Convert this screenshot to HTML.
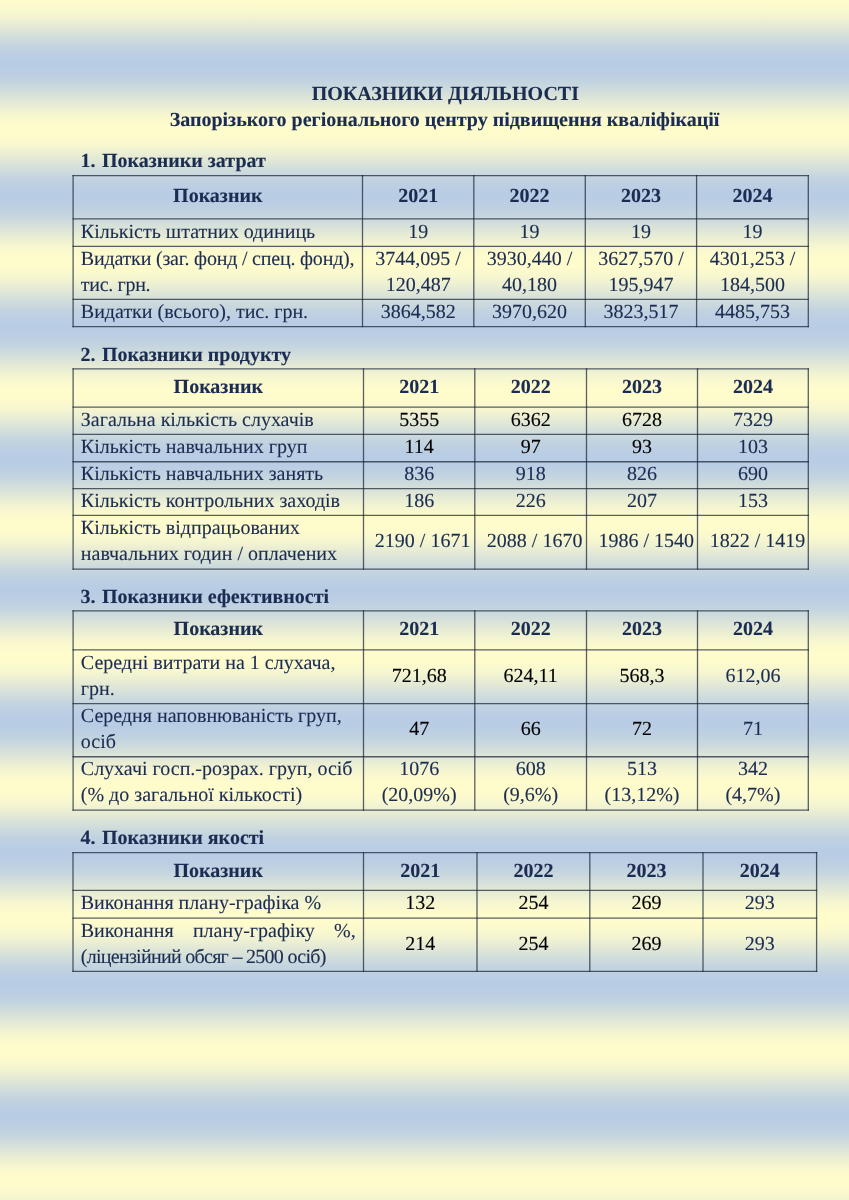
<!DOCTYPE html>
<html lang="uk"><head><meta charset="utf-8"><title>Показники діяльності</title>
<style>
html,body{margin:0;padding:0}
body{width:849px;height:1200px;overflow:hidden;position:relative;background:repeating-linear-gradient(to bottom,rgb(255,252,204) -1.20px,rgb(254,251,204) 4.28px,rgb(250,249,206) 9.75px,rgb(245,245,208) 15.23px,rgb(237,240,210) 20.71px,rgb(229,234,213) 26.19px,rgb(220,228,216) 31.66px,rgb(210,222,219) 37.14px,rgb(202,216,222) 42.62px,rgb(194,211,224) 48.09px,rgb(189,207,226) 53.57px,rgb(185,205,228) 59.05px,rgb(184,204,228) 64.52px,rgb(185,205,228) 70.00px,rgb(189,207,226) 75.48px,rgb(194,211,224) 80.96px,rgb(202,216,222) 86.43px,rgb(210,222,219) 91.91px,rgb(220,228,216) 97.39px,rgb(229,234,213) 102.86px,rgb(237,240,210) 108.34px,rgb(245,245,208) 113.82px,rgb(250,249,206) 119.30px,rgb(254,251,204) 124.77px,rgb(255,252,204) 130.25px);font-family:"Liberation Serif","Times New Roman",serif;font-size:20px;line-height:26px;color:#1B2C52}
.t{position:absolute;white-space:nowrap;height:26px;-webkit-text-stroke:0.12px currentColor}
.b{font-weight:bold}
.c{text-align:center}
.j{text-align:justify;text-align-last:justify}
svg{position:absolute;left:0;top:0}
#w{position:absolute;left:0;top:0;width:849px;height:1200px;will-change:transform;text-rendering:geometricPrecision}
</style></head><body>

<div id="w">
<div class="t b c" style="left:0.80px;top:80.70px;width:889.00px;">ПОКАЗНИКИ ДІЯЛЬНОСТІ</div>
<div class="t b c" style="left:0.00px;top:107.00px;width:889.00px;">Запорізького регіонального центру підвищення кваліфікації</div>
<div class="t b" style="left:80.60px;top:148.20px;">1.<span style="margin-left:1.3px"> </span>Показники затрат</div>
<div class="t b" style="left:80.60px;top:341.70px;">2.<span style="margin-left:1.3px"> </span>Показники продукту</div>
<div class="t b" style="left:80.60px;top:583.70px;">3.<span style="margin-left:1.3px"> </span>Показники ефективності</div>
<div class="t b" style="left:80.60px;top:825.20px;">4.<span style="margin-left:1.3px"> </span>Показники якості</div>
<div class="t b c" style="left:80.80px;top:183.22px;width:274.00px;">Показник</div>
<div class="t b c" style="left:370.20px;top:183.22px;width:95.90px;">2021</div>
<div class="t b c" style="left:481.50px;top:183.22px;width:96.10px;">2022</div>
<div class="t b c" style="left:593.00px;top:183.22px;width:95.90px;">2023</div>
<div class="t b c" style="left:704.30px;top:183.22px;width:96.30px;">2024</div>
<div class="t " style="left:80.80px;top:218.62px;">Кількість штатних одиниць</div>
<div class="t  c" style="left:370.20px;top:218.62px;width:95.90px;">19</div>
<div class="t  c" style="left:481.50px;top:218.62px;width:96.10px;">19</div>
<div class="t  c" style="left:593.00px;top:218.62px;width:95.90px;">19</div>
<div class="t  c" style="left:704.30px;top:218.62px;width:96.30px;">19</div>
<div class="t " style="left:80.80px;top:245.85px;letter-spacing:-0.2px;">Видатки (заг. фонд / спец. фонд),</div>
<div class="t " style="left:80.80px;top:271.85px;letter-spacing:-0.3px;">тис. грн.</div>
<div class="t  c" style="left:370.20px;top:245.85px;width:95.90px;">3744,095 /</div>
<div class="t  c" style="left:370.20px;top:271.85px;width:95.90px;">120,487</div>
<div class="t  c" style="left:481.50px;top:245.85px;width:96.10px;">3930,440 /</div>
<div class="t  c" style="left:481.50px;top:271.85px;width:96.10px;">40,180</div>
<div class="t  c" style="left:593.00px;top:245.85px;width:95.90px;">3627,570 /</div>
<div class="t  c" style="left:593.00px;top:271.85px;width:95.90px;">195,947</div>
<div class="t  c" style="left:704.30px;top:245.85px;width:96.30px;">4301,253 /</div>
<div class="t  c" style="left:704.30px;top:271.85px;width:96.30px;">184,500</div>
<div class="t " style="left:80.80px;top:298.95px;">Видатки (всього), тис. грн.</div>
<div class="t  c" style="left:370.20px;top:298.95px;width:95.90px;">3864,582</div>
<div class="t  c" style="left:481.50px;top:298.95px;width:96.10px;">3970,620</div>
<div class="t  c" style="left:593.00px;top:298.95px;width:95.90px;">3823,517</div>
<div class="t  c" style="left:704.30px;top:298.95px;width:96.30px;">4485,753</div>
<div class="t b c" style="left:80.80px;top:373.98px;width:275.00px;">Показник</div>
<div class="t b c" style="left:371.20px;top:373.98px;width:95.90px;">2021</div>
<div class="t b c" style="left:482.50px;top:373.98px;width:96.30px;">2022</div>
<div class="t b c" style="left:594.20px;top:373.98px;width:95.60px;">2023</div>
<div class="t b c" style="left:705.20px;top:373.98px;width:95.40px;">2024</div>
<div class="t " style="left:80.80px;top:406.75px;">Загальна кількість слухачів</div>
<div class="t  c" style="left:371.20px;top:406.75px;width:95.90px;color:#000;">5355</div>
<div class="t  c" style="left:482.50px;top:406.75px;width:96.30px;color:#000;">6362</div>
<div class="t  c" style="left:594.20px;top:406.75px;width:95.60px;color:#000;">6728</div>
<div class="t  c" style="left:705.20px;top:406.75px;width:95.40px;">7329</div>
<div class="t " style="left:80.80px;top:434.10px;">Кількість навчальних груп</div>
<div class="t  c" style="left:371.20px;top:434.10px;width:95.90px;color:#000;">114</div>
<div class="t  c" style="left:482.50px;top:434.10px;width:96.30px;color:#000;">97</div>
<div class="t  c" style="left:594.20px;top:434.10px;width:95.60px;color:#000;">93</div>
<div class="t  c" style="left:705.20px;top:434.10px;width:95.40px;">103</div>
<div class="t " style="left:80.80px;top:461.15px;">Кількість навчальних занять</div>
<div class="t  c" style="left:371.20px;top:461.15px;width:95.90px;">836</div>
<div class="t  c" style="left:482.50px;top:461.15px;width:96.30px;">918</div>
<div class="t  c" style="left:594.20px;top:461.15px;width:95.60px;">826</div>
<div class="t  c" style="left:705.20px;top:461.15px;width:95.40px;">690</div>
<div class="t " style="left:80.80px;top:488.00px;">Кількість контрольних заходів</div>
<div class="t  c" style="left:371.20px;top:488.00px;width:95.90px;">186</div>
<div class="t  c" style="left:482.50px;top:488.00px;width:96.30px;">226</div>
<div class="t  c" style="left:594.20px;top:488.00px;width:95.60px;">207</div>
<div class="t  c" style="left:705.20px;top:488.00px;width:95.40px;">153</div>
<div class="t " style="left:80.80px;top:515.30px;">Кількість відпрацьованих</div>
<div class="t " style="left:80.80px;top:541.30px;">навчальних годин / оплачених</div>
<div class="t  c" style="left:374.70px;top:528.30px;width:95.90px;">2190 / 1671</div>
<div class="t  c" style="left:486.50px;top:528.30px;width:96.30px;">2088 / 1670</div>
<div class="t  c" style="left:598.50px;top:528.30px;width:95.60px;">1986 / 1540</div>
<div class="t  c" style="left:709.80px;top:528.30px;width:95.40px;">1822 / 1419</div>
<div class="t b c" style="left:80.80px;top:616.43px;width:275.00px;">Показник</div>
<div class="t b c" style="left:371.20px;top:616.43px;width:95.90px;">2021</div>
<div class="t b c" style="left:482.50px;top:616.43px;width:96.30px;">2022</div>
<div class="t b c" style="left:594.20px;top:616.43px;width:95.60px;">2023</div>
<div class="t b c" style="left:705.20px;top:616.43px;width:95.40px;">2024</div>
<div class="t " style="left:80.80px;top:649.73px;">Середні витрати на 1 слухача,</div>
<div class="t " style="left:80.80px;top:675.73px;">грн.</div>
<div class="t  c" style="left:371.20px;top:662.73px;width:95.90px;color:#000;">721,68</div>
<div class="t  c" style="left:482.50px;top:662.73px;width:96.30px;color:#000;">624,11</div>
<div class="t  c" style="left:594.20px;top:662.73px;width:95.60px;color:#000;">568,3</div>
<div class="t  c" style="left:705.20px;top:662.73px;width:95.40px;">612,06</div>
<div class="t " style="left:80.80px;top:703.15px;">Середня наповнюваність груп,</div>
<div class="t " style="left:80.80px;top:729.15px;">осіб</div>
<div class="t  c" style="left:371.20px;top:716.15px;width:95.90px;color:#000;">47</div>
<div class="t  c" style="left:482.50px;top:716.15px;width:96.30px;color:#000;">66</div>
<div class="t  c" style="left:594.20px;top:716.15px;width:95.60px;color:#000;">72</div>
<div class="t  c" style="left:705.20px;top:716.15px;width:95.40px;">71</div>
<div class="t " style="left:80.80px;top:756.45px;">Слухачі госп.-розрах. груп, осіб</div>
<div class="t " style="left:80.80px;top:782.45px;">(% до загальної кількості)</div>
<div class="t  c" style="left:371.20px;top:756.45px;width:95.90px;">1076</div>
<div class="t  c" style="left:371.20px;top:782.45px;width:95.90px;">(20,09%)</div>
<div class="t  c" style="left:482.50px;top:756.45px;width:96.30px;">608</div>
<div class="t  c" style="left:482.50px;top:782.45px;width:96.30px;">(9,6%)</div>
<div class="t  c" style="left:594.20px;top:756.45px;width:95.60px;">513</div>
<div class="t  c" style="left:594.20px;top:782.45px;width:95.60px;">(13,12%)</div>
<div class="t  c" style="left:705.20px;top:756.45px;width:95.40px;">342</div>
<div class="t  c" style="left:705.20px;top:782.45px;width:95.40px;">(4,7%)</div>
<div class="t b c" style="left:80.70px;top:857.50px;width:275.10px;">Показник</div>
<div class="t b c" style="left:371.20px;top:857.50px;width:98.10px;">2021</div>
<div class="t b c" style="left:484.70px;top:857.50px;width:97.40px;">2022</div>
<div class="t b c" style="left:597.50px;top:857.50px;width:97.80px;">2023</div>
<div class="t b c" style="left:710.70px;top:857.50px;width:98.20px;">2024</div>
<div class="t " style="left:80.70px;top:890.30px;">Виконання плану-графіка %</div>
<div class="t  c" style="left:371.20px;top:890.30px;width:98.10px;color:#000;">132</div>
<div class="t  c" style="left:484.70px;top:890.30px;width:97.40px;color:#000;">254</div>
<div class="t  c" style="left:597.50px;top:890.30px;width:97.80px;color:#000;">269</div>
<div class="t  c" style="left:710.70px;top:890.30px;width:98.20px;">293</div>
<div class="t  j" style="left:80.70px;top:917.80px;width:275.10px;">Виконання плану-графіку %,</div>
<div class="t " style="left:80.70px;top:943.80px;letter-spacing:-0.71px;">(ліцензійний обсяг – 2500 осіб)</div>
<div class="t  c" style="left:371.20px;top:930.80px;width:98.10px;color:#000;">214</div>
<div class="t  c" style="left:484.70px;top:930.80px;width:97.40px;color:#000;">254</div>
<div class="t  c" style="left:597.50px;top:930.80px;width:97.80px;color:#000;">269</div>
<div class="t  c" style="left:710.70px;top:930.80px;width:98.20px;">293</div>
<svg width="849" height="1200" viewBox="0 0 849 1200"><g stroke="#142032" stroke-opacity="0.7" stroke-width="1.3" fill="none"><line x1="72.50" y1="175.55" x2="808.90" y2="175.55"/><line x1="72.50" y1="218.90" x2="808.90" y2="218.90"/><line x1="72.50" y1="246.35" x2="808.90" y2="246.35"/><line x1="72.50" y1="299.35" x2="808.90" y2="299.35"/><line x1="72.50" y1="326.55" x2="808.90" y2="326.55"/><line x1="73.10" y1="174.90" x2="73.10" y2="327.20"/><line x1="362.50" y1="174.90" x2="362.50" y2="327.20"/><line x1="473.80" y1="174.90" x2="473.80" y2="327.20"/><line x1="585.30" y1="174.90" x2="585.30" y2="327.20"/><line x1="696.60" y1="174.90" x2="696.60" y2="327.20"/><line x1="808.30" y1="174.90" x2="808.30" y2="327.20"/><line x1="72.50" y1="368.90" x2="808.90" y2="368.90"/><line x1="72.50" y1="407.05" x2="808.90" y2="407.05"/><line x1="72.50" y1="434.45" x2="808.90" y2="434.45"/><line x1="72.50" y1="461.75" x2="808.90" y2="461.75"/><line x1="72.50" y1="488.55" x2="808.90" y2="488.55"/><line x1="72.50" y1="515.45" x2="808.90" y2="515.45"/><line x1="72.50" y1="569.15" x2="808.90" y2="569.15"/><line x1="73.10" y1="368.25" x2="73.10" y2="569.80"/><line x1="363.50" y1="368.25" x2="363.50" y2="569.80"/><line x1="474.80" y1="368.25" x2="474.80" y2="569.80"/><line x1="586.50" y1="368.25" x2="586.50" y2="569.80"/><line x1="697.50" y1="368.25" x2="697.50" y2="569.80"/><line x1="808.30" y1="368.25" x2="808.30" y2="569.80"/><line x1="72.50" y1="610.95" x2="808.90" y2="610.95"/><line x1="72.50" y1="649.90" x2="808.90" y2="649.90"/><line x1="72.50" y1="703.55" x2="808.90" y2="703.55"/><line x1="72.50" y1="756.75" x2="808.90" y2="756.75"/><line x1="72.50" y1="810.15" x2="808.90" y2="810.15"/><line x1="73.10" y1="610.30" x2="73.10" y2="810.80"/><line x1="363.50" y1="610.30" x2="363.50" y2="810.80"/><line x1="474.80" y1="610.30" x2="474.80" y2="810.80"/><line x1="586.50" y1="610.30" x2="586.50" y2="810.80"/><line x1="697.50" y1="610.30" x2="697.50" y2="810.80"/><line x1="808.30" y1="610.30" x2="808.30" y2="810.80"/><line x1="72.40" y1="852.55" x2="817.20" y2="852.55"/><line x1="72.40" y1="890.45" x2="817.20" y2="890.45"/><line x1="72.40" y1="918.15" x2="817.20" y2="918.15"/><line x1="72.40" y1="971.45" x2="817.20" y2="971.45"/><line x1="73.00" y1="851.90" x2="73.00" y2="972.10"/><line x1="363.50" y1="851.90" x2="363.50" y2="972.10"/><line x1="477.00" y1="851.90" x2="477.00" y2="972.10"/><line x1="589.80" y1="851.90" x2="589.80" y2="972.10"/><line x1="703.00" y1="851.90" x2="703.00" y2="972.10"/><line x1="816.60" y1="851.90" x2="816.60" y2="972.10"/></g></svg>
</div></body></html>
